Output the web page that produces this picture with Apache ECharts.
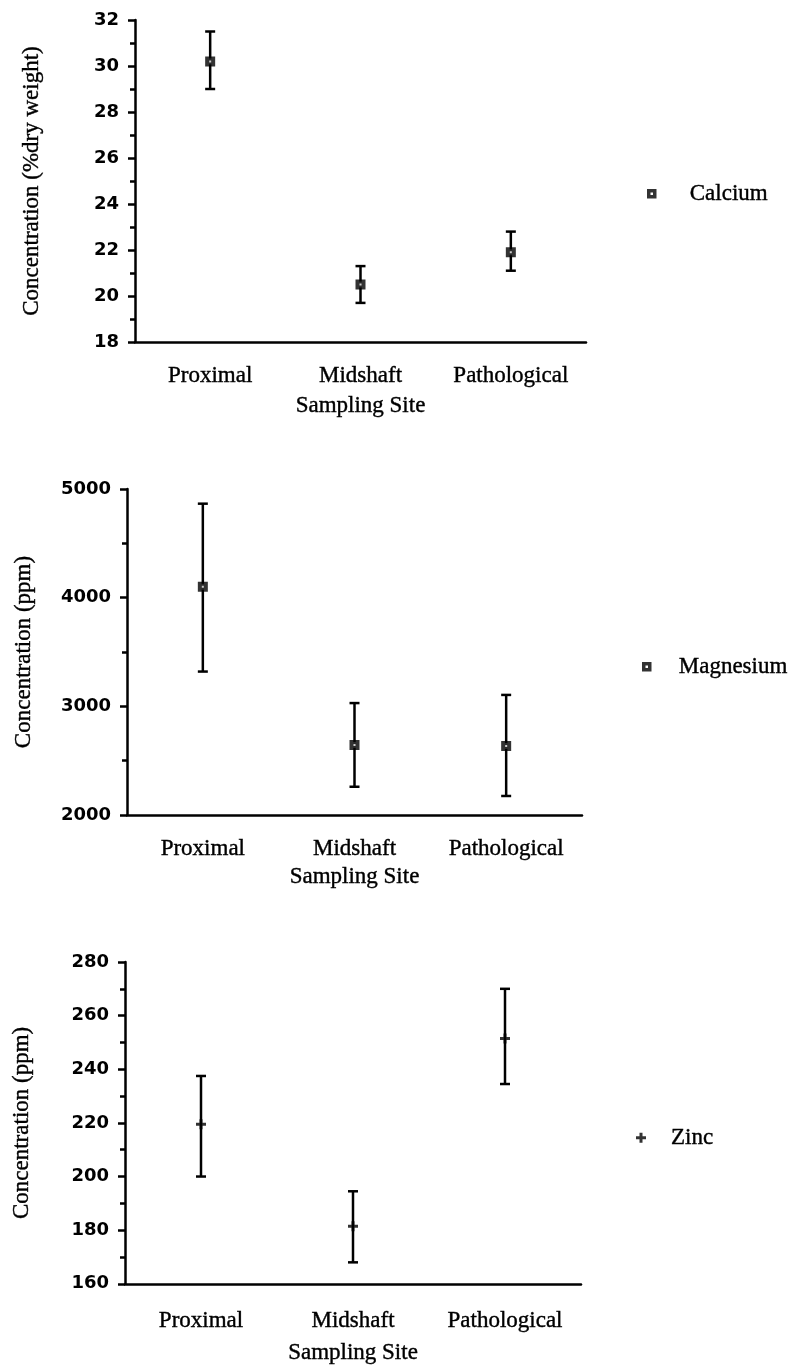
<!DOCTYPE html>
<html>
<head>
<meta charset="utf-8">
<script src="https://cdn.jsdelivr.net/npm/echarts@6/dist/echarts.min.js"></script>
<style>
  html, body { margin: 0; padding: 0; background: #fff; }
  #chart { width: 798px; height: 1366px; }
</style>
</head>
<body>
<div id="chart"></div>
<script>
// Sampling sites along the x axis of every panel
const categories = ['Proximal', 'Midshaft', 'Pathological'];

// Calcium, % dry weight: mean and error-bar limits
const calciumMean = [30.2, 20.5, 21.9];
const calciumLow  = [29.0, 19.7, 21.1];
const calciumHigh = [31.5, 21.3, 22.8];

// Magnesium, ppm
const magnesiumMean = [4100, 2645, 2635];
const magnesiumLow  = [3320, 2260, 2175];
const magnesiumHigh = [4865, 3030, 3105];

// Zinc, ppm
const zincMean = [219.5, 181.5, 251.5];
const zincLow  = [200, 168, 234.5];
const zincHigh = [237.5, 194.5, 270];

// Y axis ranges per panel: [min, max, interval]
const calciumAxis   = [18, 32, 2];
const magnesiumAxis = [2000, 5000, 1000];
const zincAxis      = [160, 280, 20];

const SERIF = 'Liberation Serif';
const SANS = 'DejaVu Sans';
const PLUS = 'path://M3.5,0h3v3.5h3.5v3h-3.5v3.5h-3v-3.5h-3.5v-3h3.5z';

// Serif text with a hairline outline so it reads as heavy as printed type
const serifText = {
  fontFamily: SERIF, fontSize: 23, color: '#000',
  textBorderColor: '#000', textBorderWidth: 0.4
};

function errorBars(params, api) {
  const i = api.value(0);
  const lo = api.coord([i, api.value(1)]);
  const hi = api.coord([i, api.value(2)]);
  const w = 5;
  const st = { stroke: '#000', lineWidth: 2.5 };
  return {
    type: 'group',
    children: [
      { type: 'line', shape: { x1: lo[0], y1: lo[1], x2: hi[0], y2: hi[1] }, style: st },
      { type: 'line', shape: { x1: lo[0] - w, y1: lo[1], x2: lo[0] + w, y2: lo[1] }, style: st },
      { type: 'line', shape: { x1: hi[0] - w, y1: hi[1], x2: hi[0] + w, y2: hi[1] }, style: st }
    ]
  };
}

function barData(low, high) {
  return categories.map((c, i) => [i, low[i], high[i]]);
}

function xAxisFor(idx, labelMargin, nameGap) {
  return {
    type: 'category',
    gridIndex: idx,
    data: categories,
    boundaryGap: true,
    name: 'Sampling Site',
    nameLocation: 'middle',
    nameGap: nameGap,
    nameTextStyle: serifText,
    axisLine: { lineStyle: { color: '#000', width: 2.5 } },
    axisTick: { alignWithLabel: true, length: 6, lineStyle: { color: '#000', width: 2.5 } },
    axisLabel: Object.assign({ margin: labelMargin }, serifText),
    splitLine: { show: false }
  };
}

function yAxisFor(idx, range, title, nameGap) {
  return {
    type: 'value',
    gridIndex: idx,
    min: range[0],
    max: range[1],
    interval: range[2],
    name: title,
    nameLocation: 'middle',
    nameRotate: 90,
    nameGap: nameGap,
    nameTextStyle: serifText,
    axisLine: { show: true, lineStyle: { color: '#000', width: 2.5 } },
    axisTick: { show: true, length: 7, lineStyle: { color: '#000', width: 2.5 } },
    minorTick: { show: true, splitNumber: 2, length: 5, lineStyle: { color: '#000', width: 2.5 } },
    axisLabel: {
      margin: 16, fontFamily: SANS, fontWeight: 'bold', fontSize: 18, color: '#000',
      formatter: v => String(v)
    },
    splitLine: { show: false },
    minorSplitLine: { show: false }
  };
}

// Heavy black square with a small white centre
const squareStyle = { color: '#fff', borderColor: '#000', borderWidth: 4 };
const legendSquare = { color: '#fff', borderColor: '#000', borderWidth: 3.5 };

const option = {
  backgroundColor: '#fff',
  animation: false,
  grid: [
    { left: 135, top: 20, width: 451, height: 322 },
    { left: 127, top: 489, width: 455, height: 326 },
    { left: 125, top: 962, width: 456, height: 325 }
  ],
  xAxis: [
    xAxisFor(0, 22, 52),
    xAxisFor(1, 22, 50),
    xAxisFor(2, 26, 58)
  ],
  yAxis: [
    yAxisFor(0, calciumAxis, 'Concentration (%dry weight)', 92),
    yAxisFor(1, magnesiumAxis, 'Concentration (ppm)', 92),
    yAxisFor(2, zincAxis, 'Concentration (ppm)', 92)
  ],
  legend: [
    {
      left: 642, top: 177, itemWidth: 6, itemHeight: 6,
      data: [{ name: 'Calcium', icon: 'rect', itemStyle: legendSquare }],
      textStyle: Object.assign({ padding: [0, 0, 0, 30] }, serifText)
    },
    {
      left: 637, top: 650, itemWidth: 6, itemHeight: 6,
      data: [{ name: 'Magnesium', icon: 'rect', itemStyle: legendSquare }],
      textStyle: Object.assign({ padding: [0, 0, 0, 24] }, serifText)
    },
    {
      left: 631, top: 1121, itemWidth: 10, itemHeight: 10,
      data: [{ name: 'Zinc', icon: PLUS, itemStyle: { color: '#000' } }],
      textStyle: Object.assign({ padding: [0, 0, 0, 20] }, serifText)
    }
  ],
  series: [
    {
      type: 'custom', name: 'Calcium bars', xAxisIndex: 0, yAxisIndex: 0,
      renderItem: errorBars, encode: { x: 0, y: [1, 2] },
      data: barData(calciumLow, calciumHigh), z: 2
    },
    {
      type: 'scatter', name: 'Calcium', xAxisIndex: 0, yAxisIndex: 0,
      symbol: 'rect', symbolSize: 6, itemStyle: squareStyle,
      data: calciumMean, z: 3
    },
    {
      type: 'custom', name: 'Magnesium bars', xAxisIndex: 1, yAxisIndex: 1,
      renderItem: errorBars, encode: { x: 0, y: [1, 2] },
      data: barData(magnesiumLow, magnesiumHigh), z: 2
    },
    {
      type: 'scatter', name: 'Magnesium', xAxisIndex: 1, yAxisIndex: 1,
      symbol: 'rect', symbolSize: 6, itemStyle: squareStyle,
      data: magnesiumMean, z: 3
    },
    {
      type: 'custom', name: 'Zinc bars', xAxisIndex: 2, yAxisIndex: 2,
      renderItem: errorBars, encode: { x: 0, y: [1, 2] },
      data: barData(zincLow, zincHigh), z: 2
    },
    {
      type: 'scatter', name: 'Zinc', xAxisIndex: 2, yAxisIndex: 2,
      symbol: PLUS, symbolSize: 10, itemStyle: { color: '#000' },
      data: zincMean, z: 3
    }
  ]
};

const chart = echarts.init(document.getElementById('chart'), null, { renderer: 'canvas' });
chart.setOption(option);
</script>
</body>
</html>
